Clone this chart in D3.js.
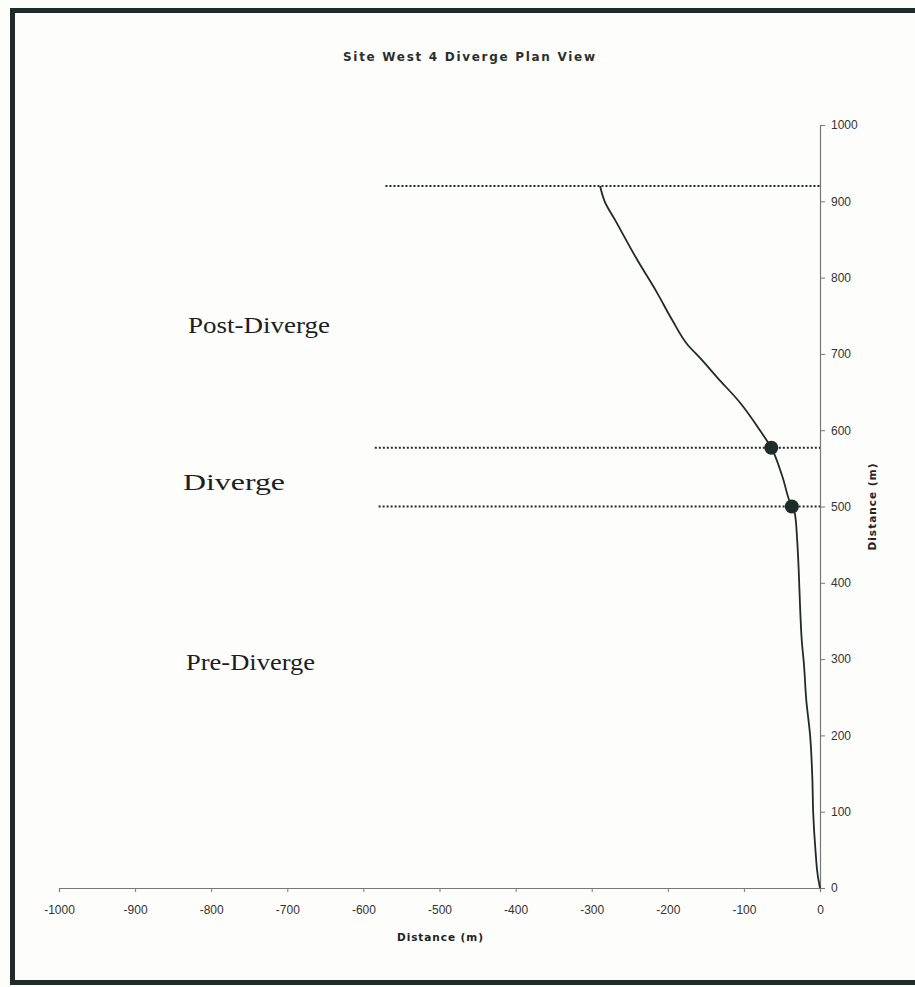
<!DOCTYPE html>
<html>
<head>
<meta charset="utf-8">
<script src="https://cdn.jsdelivr.net/npm/d3@7/dist/d3.min.js"></script>
<style>
  html, body { margin: 0; padding: 0; background: #fdfdfc; }
  svg { display: block; }
</style>
</head>
<body>
<svg id="chart" width="915" height="987"></svg>
<script>
// Lateral offset (m) and along-road distance (m) of the diverge path
const pathX = [-289, -283, -269, -240, -214, -194, -174, -158, -134, -105, -79, -64, -50, -37, -33, -30, -28, -26, -24, -21, -18, -13, -10, -9, -6, -3, 0];
const pathY = [920, 900, 875, 823, 780, 744, 712, 695, 668, 636, 600, 577, 541, 499, 491, 456, 417, 364, 325, 292, 246, 200, 142, 100, 50, 17, 0];

// Section boundaries: horizontal reference lines (distance along road, left end offset)
const boundaryY = [920, 577, 500];
const boundaryStartX = [-571, -585, -580];

// Gore points marked on the path
const markerX = [-64, -37];
const markerY = [577, 500];

// Section labels
const sectionNames = ["Post-Diverge", "Diverge", "Pre-Diverge"];
const sectionLabelY = [727, 521, 286];

const xTicks = [-1000, -900, -800, -700, -600, -500, -400, -300, -200, -100, 0];
const yTicks = [0, 100, 200, 300, 400, 500, 600, 700, 800, 900, 1000];

const svg = d3.select("#chart");
const ink = "#1f2b28";

// Frame
svg.append("rect")
  .attr("x", 12.5).attr("y", 10.5)
  .attr("width", 940).attr("height", 972)
  .attr("fill", "none").attr("stroke", ink).attr("stroke-width", 5);

const x = d3.scaleLinear().domain([-1000, 0]).range([59, 820]);
const y = d3.scaleLinear().domain([0, 1000]).range([888, 125]);

// Title
svg.append("text")
  .attr("x", 469).attr("y", 61)
  .attr("text-anchor", "middle")
  .attr("font-family", "DejaVu Sans, Verdana, sans-serif")
  .attr("font-weight", "bold").attr("font-size", 12)
  .attr("textLength", 252).attr("lengthAdjust", "spacing")
  .attr("fill", "#2a2f2d")
  .text("Site West 4 Diverge Plan View");

const tickFmt = d => String(d);

// X axis
const xAxis = d3.axisBottom(x).tickValues(xTicks).tickSize(4).tickPadding(13)
  .tickFormat(tickFmt);
const gx = svg.append("g").attr("transform", `translate(0,${y(0)})`).call(xAxis);
gx.select(".domain").attr("stroke", "#777").attr("stroke-width", 1.2);
gx.selectAll(".tick line").attr("stroke", "#777");
gx.selectAll(".tick text")
  .attr("font-family", "Liberation Sans, Arial, sans-serif")
  .attr("font-size", 12).attr("fill", "#333");

// Y axis on the right of the zero line
const yAxis = d3.axisRight(y).tickValues(yTicks).tickSize(5).tickPadding(6)
  .tickFormat(tickFmt);
const gy = svg.append("g").attr("transform", `translate(${x(0)},0)`).call(yAxis);
gy.select(".domain").attr("stroke", "#777").attr("stroke-width", 1.2);
gy.selectAll(".tick line").attr("stroke", "#777");
gy.selectAll(".tick text")
  .attr("font-family", "Liberation Sans, Arial, sans-serif")
  .attr("font-size", 12).attr("fill", "#333");

// Axis titles
svg.append("text")
  .attr("x", 440).attr("y", 941)
  .attr("text-anchor", "middle")
  .attr("font-family", "DejaVu Sans, Verdana, sans-serif")
  .attr("font-weight", "bold").attr("font-size", 10.5)
  .attr("textLength", 86).attr("lengthAdjust", "spacing")
  .attr("fill", "#222")
  .text("Distance (m)");

svg.append("text")
  .attr("transform", "translate(876,507) rotate(-90)")
  .attr("text-anchor", "middle")
  .attr("font-family", "DejaVu Sans, Verdana, sans-serif")
  .attr("font-weight", "bold").attr("font-size", 10.5)
  .attr("textLength", 87).attr("lengthAdjust", "spacing")
  .attr("fill", "#222")
  .text("Distance (m)");

// Section boundary lines
svg.append("g").selectAll("line")
  .data(boundaryY)
  .join("line")
  .attr("x1", (d, i) => x(boundaryStartX[i]))
  .attr("x2", x(0))
  .attr("y1", d => y(d)).attr("y2", d => y(d))
  .attr("stroke", ink).attr("stroke-width", 2)
  .attr("stroke-dasharray", "2,2");

// Path of the diverging lane
const pts = pathX.map((d, i) => [d, pathY[i]]);
svg.append("path")
  .datum(pts)
  .attr("fill", "none").attr("stroke", ink).attr("stroke-width", 1.8)
  .attr("d", d3.line().curve(d3.curveMonotoneY).x(d => x(d[0])).y(d => y(d[1])));

// Markers
svg.append("g").selectAll("circle")
  .data(markerX)
  .join("circle")
  .attr("cx", d => x(d))
  .attr("cy", (d, i) => y(markerY[i]))
  .attr("r", 7)
  .attr("fill", ink);

// Section labels
const labelLen = [142, 102, 129];
const labelX = [188, 183, 186];
svg.append("g").selectAll("text")
  .data(sectionNames)
  .join("text")
  .attr("x", (d, i) => labelX[i])
  .attr("y", (d, i) => y(sectionLabelY[i]))
  .attr("font-family", "Liberation Serif, Times New Roman, serif")
  .attr("font-size", 24)
  .attr("textLength", (d, i) => labelLen[i])
  .attr("lengthAdjust", "spacingAndGlyphs")
  .attr("fill", "#1e1e1e")
  .text(d => d);
</script>
</body>
</html>
